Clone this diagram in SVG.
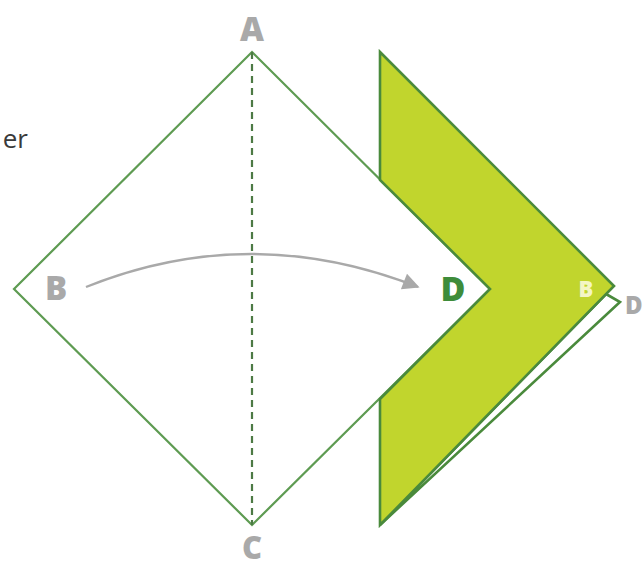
<svg xmlns="http://www.w3.org/2000/svg" width="644" height="567" viewBox="0 0 644 567">
<defs>
<style>
.lbl{font-family:"Open Sans","Liberation Sans",sans-serif;font-weight:800;text-anchor:middle}
.gray{fill:#a9a9a9}
.edge{fill:none;stroke:#5e9b52;stroke-width:2.2;stroke-linejoin:miter}
.dark{stroke:#4a8a3c;stroke-width:2.6;stroke-linejoin:miter}
</style>
<marker id="ah" viewBox="0 0 10 10" refX="9" refY="5" markerWidth="8" markerHeight="7" markerUnits="strokeWidth" orient="auto">
<path d="M0,0 L10,5 L0,10 z" fill="#a9a9a9"/>
</marker>
</defs>
<rect width="644" height="567" fill="#ffffff"/>
<text x="28" y="148" font-family="Open Sans, Liberation Sans, sans-serif" font-size="26" fill="#3a3a3a" text-anchor="end">er</text>
<g id="diamond">
<polygon class="edge" points="252,52 490,289 252,525 14,289"/>
<line x1="252" y1="52" x2="252" y2="525" stroke="#4d7a45" stroke-width="2.2" stroke-dasharray="7,5"/>
</g>
<g id="strip">
<polygon points="606,294 620,302 380,525" fill="#ffffff" class="dark"/>
</g>
<g id="fold">
<polygon points="380,52 614,286 380,525 380,399 490,289 380,180" fill="#c1d52d" class="dark"/>
</g>
<g id="connectors">
<path d="M86,287 Q250,221 418,287" fill="none" stroke="#a9a9a9" stroke-width="2.4" marker-end="url(#ah)"/>
</g>
<g id="labelA"><text class="lbl gray" x="252" y="41" font-size="33">A</text></g>
<g id="labelB"><text class="lbl gray" x="56" y="300" font-size="33">B</text></g>
<g id="labelD"><text class="lbl" x="453" y="301" font-size="34" fill="#3e8c3a">D</text></g>
<g id="labelC"><text class="lbl gray" x="252" y="559" font-size="31">C</text></g>
<g id="labelB2"><text class="lbl" x="586" y="297" font-size="22" fill="#f4f6c4">B</text></g>
<g id="labelD2"><text x="625" y="314" font-family="Open Sans, Liberation Sans, sans-serif" font-weight="800" font-size="24" fill="#a9a9a9">D</text></g>
</svg>
